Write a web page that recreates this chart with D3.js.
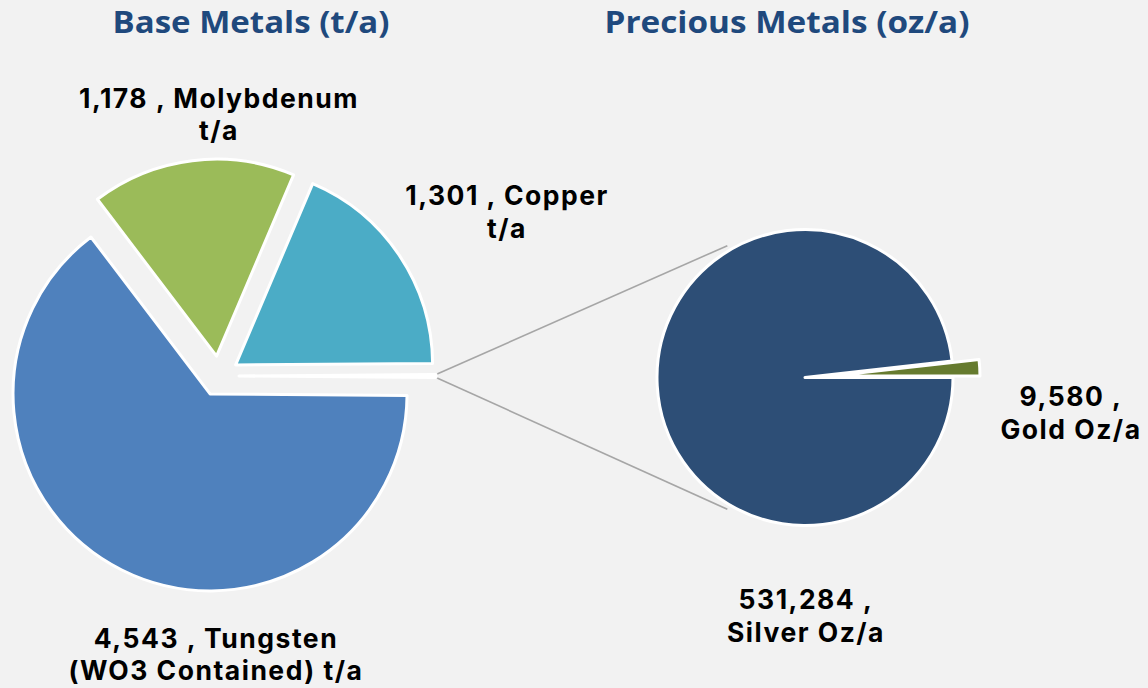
<!DOCTYPE html>
<html>
<head>
<meta charset="utf-8">
<script src="https://cdn.jsdelivr.net/npm/d3@7"></script>
<style>
  html, body { margin: 0; padding: 0; background: #f2f2f2; }
  svg { display: block; }
  text { font-family: "Open Sans", "Noto Sans", sans-serif; }
  text.lbl { font-family: Inter, "Open Sans", sans-serif; }
</style>
</head>
<body>
<svg id="chart" width="1148" height="688"></svg>
<script>
// ---- Data ----
const baseCategories = ["Tungsten", "Molybdenum", "Copper"];
const baseValues = [4543, 1178, 1301];             // t/a
const baseColors = ["#4f81bd", "#9bbb59", "#4bacc6"];
const preciousCategories = ["Silver", "Gold"];
const preciousValues = [531284, 9580];             // oz/a
const preciousColors = ["#2d4e76", "#667b2f"];
const otherValue = [17];                           // precious metals expressed in t/a (tiny "other" slice)
const baseLabels = [
  ["4,543 , Tungsten", "(WO3 Contained) t/a"],
  ["1,178 , Molybdenum", "t/a"],
  ["1,301 , Copper", "t/a"]
];
const preciousLabels = [
  ["531,284 ,", "Silver Oz/a"],
  ["9,580 ,", "Gold Oz/a"]
];
const titles = ["Base Metals (t/a)", "Precious Metals (oz/a)"];

// ---- Layout ----
const svg = d3.select("#chart");
svg.append("rect").attr("width", 1148).attr("height", 688).attr("fill", "#f2f2f2");

const C1 = { x: 219, y: 376 }, R1 = 197, EXP1 = 20;
const C2 = { x: 805, y: 377.5 }, R2 = 148, EXP2 = 27;

// Main pie: other slice centred at 3 o'clock
const mainData = [
  { name: "Other", value: otherValue[0], color: "#ffffff" },
  ...baseCategories.map((c, i) => ({ name: c, value: baseValues[i], color: baseColors[i] }))
];
const mainTotal = d3.sum(mainData, d => d.value);
const otherAngle = 2 * Math.PI * otherValue[0] / mainTotal;
const start1 = Math.PI / 2 - otherAngle / 2;
const pie1 = d3.pie().sort(null).value(d => d.value).startAngle(start1).endAngle(start1 + 2 * Math.PI);
const arcs1 = pie1(mainData);
const arc1 = d3.arc().innerRadius(0).outerRadius(R1);

// Secondary pie
const secData = preciousCategories.map((c, i) => ({ name: c, value: preciousValues[i], color: preciousColors[i] }));
const pie2 = d3.pie().sort(null).value(d => d.value).startAngle(Math.PI / 2).endAngle(Math.PI / 2 + 2 * Math.PI);
const arcs2 = pie2(secData);
const arc2 = d3.arc().innerRadius(0).outerRadius(R2);

function offset(a, d) {
  const m = (a.startAngle + a.endAngle) / 2;
  return [d * Math.sin(m), -d * Math.cos(m)];
}

// Connector lines (from "other" slice outer edge to secondary pie)
const otherArc = arcs1[0];
const oOff = offset(otherArc, EXP1);
const connAngle = 59.5 * Math.PI / 180;
const connR = R2 + 5;
const ends = [3 * Math.PI / 2 + connAngle, 3 * Math.PI / 2 - connAngle];
const starts = [otherArc.startAngle, otherArc.endAngle];
const conn = svg.append("g");
[0, 1].forEach(i => {
  const sx = C1.x + oOff[0] + R1 * Math.sin(starts[i]);
  const sy = C1.y + oOff[1] - R1 * Math.cos(starts[i]);
  const ex = C2.x + connR * Math.sin(ends[i]);
  const ey = C2.y - connR * Math.cos(ends[i]);
  conn.append("line").attr("x1", sx).attr("y1", sy).attr("x2", ex).attr("y2", ey)
    .attr("stroke", "#a6a6a6").attr("stroke-width", 1.6);
});

// Draw main pie
const g1 = svg.append("g").attr("transform", `translate(${C1.x},${C1.y})`);
g1.selectAll("path").data(arcs1).join("path")
  .attr("d", arc1)
  .attr("transform", d => { const o = offset(d, EXP1); return `translate(${o[0]},${o[1]})`; })
  .attr("fill", d => d.data.color)
  .attr("stroke", "#ffffff").attr("stroke-width", 3).attr("stroke-linejoin", "round");

// Draw secondary pie (gold first, silver on top)
const g2 = svg.append("g").attr("transform", `translate(${C2.x},${C2.y})`);
g2.selectAll("path").data(arcs2.slice().reverse()).join("path")
  .attr("d", arc2)
  .attr("transform", d => d.data.name === "Gold" ? (() => { const o = offset(d, EXP2); return `translate(${o[0]},${o[1]})`; })() : null)
  .attr("fill", d => d.data.color)
  .attr("stroke", "#ffffff").attr("stroke-width", 3).attr("stroke-linejoin", "round");

// Titles
const titlePos = [{ x: 251, w: 277 }, { x: 787, w: 365 }];
titles.forEach((t, i) => {
  svg.append("text").attr("x", titlePos[i].x).attr("y", 33)
    .attr("text-anchor", "middle")
    .attr("font-size", 31).attr("font-weight", 700).attr("fill", "#1f497d")
    .attr("textLength", titlePos[i].w).attr("lengthAdjust", "spacingAndGlyphs")
    .text(t);
});

// Labels
const labelPos = [
  { x: 216, y: [648, 680] },   // Tungsten
  { x: 219, y: [108, 140] },   // Molybdenum
  { x: 507, y: [205, 238] }    // Copper
];
const labelPos2 = [
  { x: 806, y: [609, 642] },   // Silver
  { x: 1071, y: [406, 439] }   // Gold
];
function drawLabel(lines, pos) {
  lines.forEach((ln, j) => {
    svg.append("text").attr("class", "lbl").attr("x", pos.x).attr("y", pos.y[j])
      .attr("text-anchor", "middle")
      .attr("font-size", 26.5).attr("font-weight", 700).attr("fill", "#000")
      .attr("letter-spacing", 1.5)
      .text(ln);
  });
}
baseLabels.forEach((l, i) => drawLabel(l, labelPos[i]));
preciousLabels.forEach((l, i) => drawLabel(l, labelPos2[i]));
</script>
</body>
</html>
